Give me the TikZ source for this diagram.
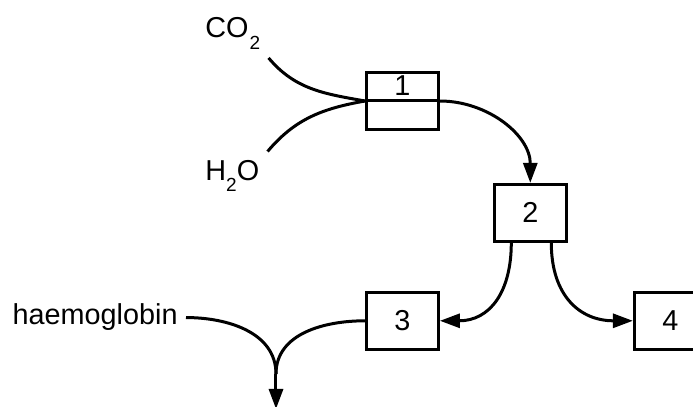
\documentclass[tikz,border=0pt]{standalone}
\usepackage{fontspec}
\setmainfont{Liberation Sans}
\usetikzlibrary{
  arrows.meta,
  positioning,
}
\tikzset{
  >={Triangle[length=10pt,width=7pt]},
}
\newcommand{\chemsub}[1]{\raisebox{-0.4em}{\fontsize{9.5}{10}\selectfont #1}}

\begin{document}
\begin{tikzpicture}[x=0.5pt,y=0.5pt,node distance=26pt and 26.5pt,
    numbox/.style={draw,rectangle,line width=1.4pt,minimum width=36pt,minimum height=28.5pt,inner sep=0pt},
    tag/.style={inner sep=4pt},
    flow/.style={line width=1.5pt},
    font=\fontsize{14.4}{17}\selectfont]

        \useasboundingbox (0,0) rectangle (693,-407);
        \clip (0,0) rectangle (693,-407);

        \node[numbox,label={[anchor=north,inner sep=0pt,yshift=-2pt]north:1}]    (b1) at (402.5,-101)      {};
        \node[numbox]    (b2) [below right=of b1]       {2};
        \node[numbox]    (b3) [below=80pt of b1]       {3};
        \node[numbox]    (b4) [right=96.5pt of b3]       {4};

        \node[tag,anchor=base west]    (co2) at (197,-38)      {CO\kern0.5pt\chemsub{2}};
        \node[tag,anchor=base west]    (h2o) at (197,-180)     {H\chemsub{2}O};
        \node[tag,anchor=base east]    (hb) at (186,-325)      {haemoglobin};

        \coordinate (join) at (276,-374);
        \coordinate (sink) at (276,-409);

        \draw[flow] (co2.south east) to[out=-50,in=170] (b1.west);
        \draw[flow] (h2o.north east) to[out=50,in=190] (b1.west);
        \draw[flow] (b1.west) -- (b1.east);
        \draw[flow,->] (b1.east) to[out=0,in=90] (b2.north);
        \draw[flow,->] ([xshift=-9.5pt]b2.south) to[out=-90,in=0,looseness=1.2] (b3.east);
        \draw[flow,->] ([xshift=10.5pt]b2.south) to[out=-90,in=180,looseness=1.2] (b4.west);
        \draw[flow] (hb.east) to[out=0,in=90] (join);
        \draw[flow] (b3.west) to[out=180,in=90] (join);
        \draw[flow,->] (join) -- (sink);

    \end{tikzpicture}
\end{document}
